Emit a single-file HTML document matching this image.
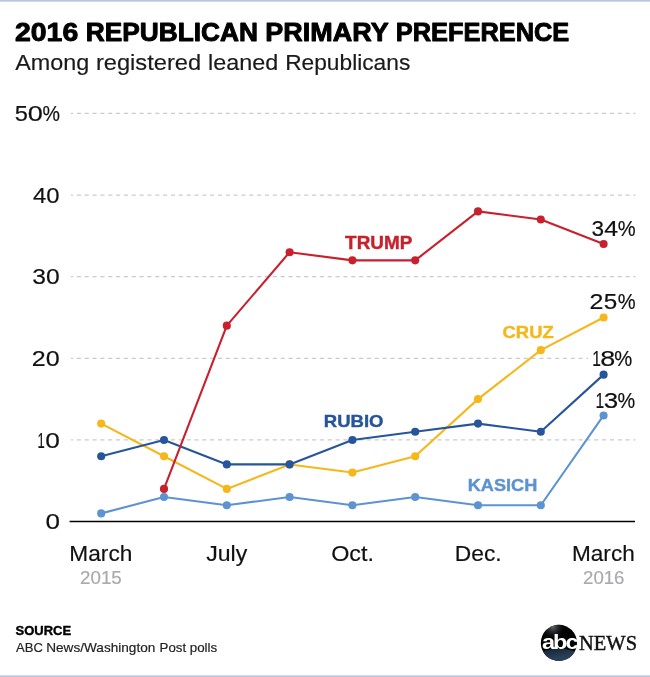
<!DOCTYPE html>
<html lang="en">
<head>
<meta charset="utf-8">
<title>2016 Republican Primary Preference</title>
<style>
html,body{margin:0;padding:0;background:#fff;}
body{width:650px;height:677px;overflow:hidden;}
svg{display:block;}
text{font-family:"Liberation Sans",Arial,Helvetica,sans-serif;}
.serif{font-family:"Liberation Serif","Times New Roman",serif;}
</style>
</head>
<body>
<svg width="650" height="677" viewBox="0 0 650 677">
<defs>
<linearGradient id="tb" x1="0" y1="0" x2="0" y2="1"><stop offset="0" stop-color="#b3c2db"/><stop offset="0.45" stop-color="#bccae0"/><stop offset="1" stop-color="#ffffff"/></linearGradient>
<linearGradient id="bb" x1="0" y1="1" x2="0" y2="0"><stop offset="0" stop-color="#b3c2db"/><stop offset="0.45" stop-color="#bccae0"/><stop offset="1" stop-color="#ffffff"/></linearGradient>
<linearGradient id="lg1" x1="0" y1="0" x2="0.25" y2="1"><stop offset="0" stop-color="#0b1118"/><stop offset="0.12" stop-color="#1a2a3b"/><stop offset="0.3" stop-color="#293f59"/><stop offset="0.6" stop-color="#36557b"/><stop offset="1" stop-color="#36557b"/></linearGradient>
<radialGradient id="lg2" cx="0.5" cy="0.5" r="0.5"><stop offset="0" stop-color="#70757c" stop-opacity="0.85"/><stop offset="0.5" stop-color="#3a3d42" stop-opacity="0.45"/><stop offset="1" stop-color="#000" stop-opacity="0"/></radialGradient>
</defs>
<rect x="0" y="0" width="650" height="677" fill="#ffffff"/>
<rect x="0" y="0" width="650" height="2.4" fill="url(#tb)"/>
<rect x="0" y="674.6" width="650" height="2.4" fill="url(#bb)"/>

<g stroke="#cbcbcb" stroke-width="1.3" stroke-dasharray="4.1 3.739" fill="none">
<line x1="71" y1="439.93" x2="635.6" y2="439.93" stroke-dashoffset="2"/>
<line x1="71" y1="358.31" x2="588" y2="358.31" stroke-dashoffset="2"/>
<line x1="71" y1="276.69" x2="635.6" y2="276.69" stroke-dashoffset="2"/>
<line x1="71" y1="195.07" x2="635.6" y2="195.07" stroke-dashoffset="2"/>
<line x1="71" y1="113.45" x2="635.6" y2="113.45" stroke-dashoffset="2"/>
</g>
<line x1="69.6" y1="521.55" x2="635" y2="521.55" stroke="#000" stroke-width="1.6"/>
<g fill="#5e93d2"><polyline points="101.2,513.39 164.0,497.06 226.8,505.23 289.6,497.06 352.4,505.23 415.2,497.06 478.0,505.23 540.8,505.23 603.6,415.44" fill="none" stroke="#5e93d2" stroke-width="2.1" stroke-linejoin="round" stroke-linecap="round"/>
<circle cx="101.2" cy="513.39" r="4.05"/><circle cx="164.0" cy="497.06" r="4.05"/><circle cx="226.8" cy="505.23" r="4.05"/><circle cx="289.6" cy="497.06" r="4.05"/><circle cx="352.4" cy="505.23" r="4.05"/><circle cx="415.2" cy="497.06" r="4.05"/><circle cx="478.0" cy="505.23" r="4.05"/><circle cx="540.8" cy="505.23" r="4.05"/><circle cx="603.6" cy="415.44" r="4.05"/></g>
<g fill="#f6b71b"><polyline points="101.2,423.61 164.0,456.25 226.8,488.9 289.6,464.42 352.4,472.58 415.2,456.25 478.0,399.12 540.8,350.15 603.6,317.5" fill="none" stroke="#f6b71b" stroke-width="2.1" stroke-linejoin="round" stroke-linecap="round"/>
<circle cx="101.2" cy="423.61" r="4.05"/><circle cx="164.0" cy="456.25" r="4.05"/><circle cx="226.8" cy="488.9" r="4.05"/><circle cx="289.6" cy="464.42" r="4.05"/><circle cx="352.4" cy="472.58" r="4.05"/><circle cx="415.2" cy="456.25" r="4.05"/><circle cx="478.0" cy="399.12" r="4.05"/><circle cx="540.8" cy="350.15" r="4.05"/><circle cx="603.6" cy="317.5" r="4.05"/></g>
<g fill="#27559b"><polyline points="101.2,456.25 164.0,439.93 226.8,464.42 289.6,464.42 352.4,439.93 415.2,431.77 478.0,423.61 540.8,431.77 603.6,374.63" fill="none" stroke="#27559b" stroke-width="2.1" stroke-linejoin="round" stroke-linecap="round"/>
<circle cx="101.2" cy="456.25" r="4.05"/><circle cx="164.0" cy="439.93" r="4.05"/><circle cx="226.8" cy="464.42" r="4.05"/><circle cx="289.6" cy="464.42" r="4.05"/><circle cx="352.4" cy="439.93" r="4.05"/><circle cx="415.2" cy="431.77" r="4.05"/><circle cx="478.0" cy="423.61" r="4.05"/><circle cx="540.8" cy="431.77" r="4.05"/><circle cx="603.6" cy="374.63" r="4.05"/></g>
<g fill="#c9202d"><polyline points="164.0,488.9 226.8,325.66 289.6,252.2 352.4,260.37 415.2,260.37 478.0,211.39 540.8,219.56 603.6,244.04" fill="none" stroke="#c9202d" stroke-width="2.1" stroke-linejoin="round" stroke-linecap="round"/>
<circle cx="164.0" cy="488.9" r="4.05"/><circle cx="226.8" cy="325.66" r="4.05"/><circle cx="289.6" cy="252.2" r="4.05"/><circle cx="352.4" cy="260.37" r="4.05"/><circle cx="415.2" cy="260.37" r="4.05"/><circle cx="478.0" cy="211.39" r="4.05"/><circle cx="540.8" cy="219.56" r="4.05"/><circle cx="603.6" cy="244.04" r="4.05"/></g>
<clipPath id="lc"><circle cx="558.9" cy="642.9" r="18.1"/></clipPath>
<circle cx="558.9" cy="642.9" r="18.1" fill="#020203"/>
<g clip-path="url(#lc)">
<ellipse cx="559" cy="672" rx="34" ry="23.4" fill="url(#lg1)"/>
<circle cx="553" cy="627" r="13" fill="url(#lg2)"/>
</g>
<text y="40.7" font-size="24.95" font-weight="700" fill="#000" stroke="#000" stroke-width="0.9" stroke-linejoin="round"><tspan x="15.01" textLength="63.18" lengthAdjust="spacingAndGlyphs">2016</tspan> <tspan x="85.69" textLength="172.34" lengthAdjust="spacingAndGlyphs">REPUBLICAN</tspan> <tspan x="265.36" textLength="122.76" lengthAdjust="spacingAndGlyphs">PRIMARY</tspan> <tspan x="395.75" textLength="173.53" lengthAdjust="spacingAndGlyphs">PREFERENCE</tspan></text>
<text y="69.5" font-size="22.1" fill="#1a1a1a" stroke="#1a1a1a" stroke-width="0.18"><tspan x="15.28" textLength="74.02" lengthAdjust="spacingAndGlyphs">Among</tspan> <tspan x="95.96" textLength="105.12" lengthAdjust="spacingAndGlyphs">registered</tspan> <tspan x="208.08" textLength="70.21" lengthAdjust="spacingAndGlyphs">leaned</tspan> <tspan x="285.18" textLength="125.08" lengthAdjust="spacingAndGlyphs">Republicans</tspan></text>
<text y="121.35" font-size="22.29" fill="#111" stroke="#111" stroke-width="0.18"><tspan x="14.71" textLength="13.16" lengthAdjust="spacingAndGlyphs">5</tspan><tspan x="27.71" textLength="15.1" lengthAdjust="spacingAndGlyphs">0</tspan><tspan x="42.41" textLength="17.46" lengthAdjust="spacingAndGlyphs">%</tspan></text>
<text x="32.9" y="202.65" font-size="22.29" fill="#111" textLength="26.61" lengthAdjust="spacingAndGlyphs" stroke="#111" stroke-width="0.18">40</text>
<text x="32.21" y="284.25" font-size="22.29" fill="#111" textLength="27.43" lengthAdjust="spacingAndGlyphs" stroke="#111" stroke-width="0.18">30</text>
<text x="31.75" y="365.85" font-size="22.29" fill="#111" textLength="27.92" lengthAdjust="spacingAndGlyphs" stroke="#111" stroke-width="0.18">20</text>
<text y="447.5" font-size="22.29" fill="#111" stroke="#111" stroke-width="0.18"><tspan x="37.42" textLength="7.24" lengthAdjust="spacingAndGlyphs">1</tspan><tspan x="45.35" textLength="14.64" lengthAdjust="spacingAndGlyphs">0</tspan></text>
<text x="45.56" y="529.15" font-size="22.29" fill="#111" textLength="14.52" lengthAdjust="spacingAndGlyphs" stroke="#111" stroke-width="0.18">0</text>
<text x="69.39" y="560.65" font-size="22.0" fill="#111" textLength="62.96" lengthAdjust="spacingAndGlyphs" stroke="#111" stroke-width="0.18">March</text>
<text x="80.06" y="584.1" font-size="18.0" fill="#a8aaad" textLength="41.68" lengthAdjust="spacingAndGlyphs" stroke="#a8aaad" stroke-width="0.18">2015</text>
<text x="206.25" y="560.65" font-size="22.0" fill="#111" textLength="41.02" lengthAdjust="spacingAndGlyphs" stroke="#111" stroke-width="0.18">July</text>
<text x="331.15" y="560.65" font-size="22.0" fill="#111" textLength="42.83" lengthAdjust="spacingAndGlyphs" stroke="#111" stroke-width="0.18">Oct.</text>
<text x="454.78" y="560.65" font-size="22.0" fill="#111" textLength="46.9" lengthAdjust="spacingAndGlyphs" stroke="#111" stroke-width="0.18">Dec.</text>
<text x="571.99" y="560.65" font-size="22.0" fill="#111" textLength="62.75" lengthAdjust="spacingAndGlyphs" stroke="#111" stroke-width="0.18">March</text>
<text x="583.07" y="584.1" font-size="18.0" fill="#a8aaad" textLength="41.36" lengthAdjust="spacingAndGlyphs" stroke="#a8aaad" stroke-width="0.18">2016</text>
<text x="345.11" y="249.4" font-size="17.54" font-weight="700" fill="#c9202d" textLength="67.16" lengthAdjust="spacingAndGlyphs" stroke="#c9202d" stroke-width="0.4" stroke-linejoin="round">TRUMP</text>
<text x="502.56" y="337.9" font-size="17.0" font-weight="700" fill="#f6b71b" textLength="51.13" lengthAdjust="spacingAndGlyphs" stroke="#f6b71b" stroke-width="0.4" stroke-linejoin="round">CRUZ</text>
<text x="323.8" y="426.8" font-size="17.0" font-weight="700" fill="#27559b" textLength="59.69" lengthAdjust="spacingAndGlyphs" stroke="#27559b" stroke-width="0.4" stroke-linejoin="round">RUBIO</text>
<text x="467.72" y="491.0" font-size="16.86" font-weight="700" fill="#5e93d2" textLength="69.52" lengthAdjust="spacingAndGlyphs" stroke="#5e93d2" stroke-width="0.4" stroke-linejoin="round">KASICH</text>
<text y="235.9" font-size="22.57" fill="#111" stroke="#111" stroke-width="0.18"><tspan x="591.5" textLength="12.54" lengthAdjust="spacingAndGlyphs">3</tspan><tspan x="604.23" textLength="13.85" lengthAdjust="spacingAndGlyphs">4</tspan><tspan x="617.7" textLength="17.89" lengthAdjust="spacingAndGlyphs">%</tspan></text>
<text y="308.8" font-size="22.57" fill="#111" stroke="#111" stroke-width="0.18"><tspan x="589.45" textLength="13.93" lengthAdjust="spacingAndGlyphs">2</tspan><tspan x="603.88" textLength="13.52" lengthAdjust="spacingAndGlyphs">5</tspan><tspan x="617.7" textLength="17.89" lengthAdjust="spacingAndGlyphs">%</tspan></text>
<text y="365.9" font-size="22.57" fill="#111" stroke="#111" stroke-width="0.18"><tspan x="592.13" textLength="8.67" lengthAdjust="spacingAndGlyphs">1</tspan><tspan x="600.38" textLength="15.03" lengthAdjust="spacingAndGlyphs">8</tspan><tspan x="614.19" textLength="18.0" lengthAdjust="spacingAndGlyphs">%</tspan></text>
<text y="407.6" font-size="22.57" fill="#111" stroke="#111" stroke-width="0.18"><tspan x="595.43" textLength="8.67" lengthAdjust="spacingAndGlyphs">1</tspan><tspan x="603.86" textLength="14.44" lengthAdjust="spacingAndGlyphs">3</tspan><tspan x="617.5" textLength="17.67" lengthAdjust="spacingAndGlyphs">%</tspan></text>
<text x="15.61" y="635" font-size="12.86" font-weight="700" fill="#000" textLength="55.49" lengthAdjust="spacingAndGlyphs" stroke="#000" stroke-width="0.4" stroke-linejoin="round">SOURCE</text>
<text y="651.8" font-size="12.8" fill="#222" stroke="#222" stroke-width="0.18"><tspan x="16.13" textLength="26.8" lengthAdjust="spacingAndGlyphs">ABC</tspan> <tspan x="46.21" textLength="109.1" lengthAdjust="spacingAndGlyphs">News/Washington</tspan> <tspan x="159.54" textLength="26.54" lengthAdjust="spacingAndGlyphs">Post</tspan> <tspan x="189.73" textLength="27.46" lengthAdjust="spacingAndGlyphs">polls</tspan></text>
<text transform="translate(541.9,648.7) scale(1.2,1)" font-size="19.6" font-weight="700" fill="#fff" letter-spacing="-1.55">abc</text>
<text class="serif" x="579.09" y="650.1" font-size="20.76" fill="#111" textLength="58.01" lengthAdjust="spacingAndGlyphs" stroke="#111" stroke-width="0.45">NEWS</text>
</svg>
</body>
</html>
